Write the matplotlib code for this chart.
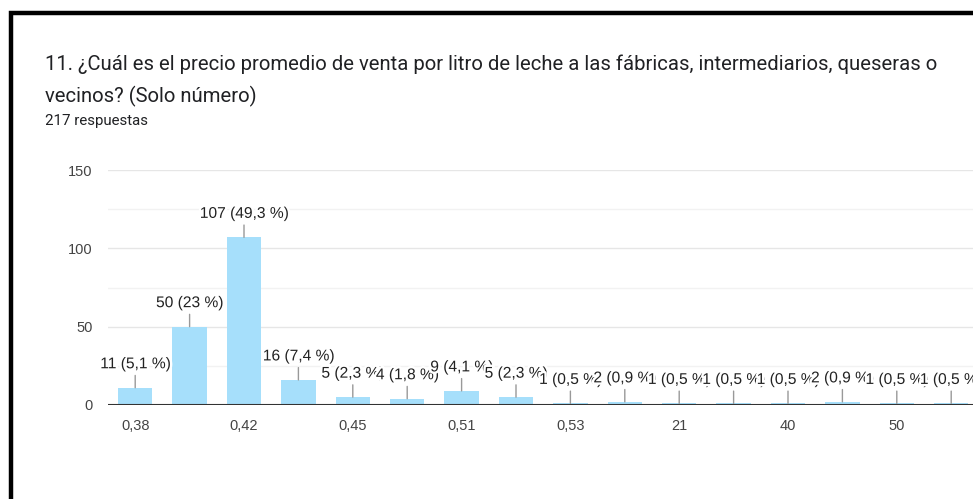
import matplotlib.pyplot as plt
import matplotlib.patheffects as pe
from matplotlib.patches import Rectangle

# respuestas por precio (las etiquetas intermedias no se muestran en el eje)
precios = ["0,38", "0,4", "0,42", "0,43", "0,45", "0,5", "0,51", "0,52",
           "0,53", "1", "21", "30", "40", "45", "50", "60"]
conteos = [11, 50, 107, 16, 5, 4, 9, 5, 1, 2, 1, 1, 1, 2, 1, 1]
porcentajes = ["5,1", "23", "49,3", "7,4", "2,3", "1,8", "4,1", "2,3",
               "0,5", "0,9", "0,5", "0,5", "0,5", "0,9", "0,5", "0,5"]

TITULO_1 = ("11. ¿Cuál es el precio promedio de venta por litro de leche a las fábricas, "
            "intermediarios, queseras o")
TITULO_2 = "vecinos? (Solo número)"
SUBTITULO = "217 respuestas"

W, H = 973, 499
fig = plt.figure(figsize=(W / 100, H / 100), dpi=100)
fig.patch.set_facecolor("white")

# marco negro de la tarjeta (sale por la derecha y por abajo)
fig.add_artist(Rectangle((11 / W, -0.2), 2.0, (H - 13) / H + 0.2,
                         transform=fig.transFigure, fill=False,
                         edgecolor="black", linewidth=3.2))

fig.text(45 / W, 1 - 70 / H, TITULO_1, fontsize=14.6, family="Roboto",
         color="#202124", va="baseline")
fig.text(45 / W, 1 - 102 / H, TITULO_2, fontsize=14.6, family="Roboto",
         color="#202124", va="baseline")
fig.text(45 / W, 1 - 121 / H, SUBTITULO, fontsize=10.8, family="Roboto",
         color="#202124", va="center")

# zona del gráfico
left, bottom, top = 108, 405, 170
slot = 54.4
n_slots = 17
ax = fig.add_axes([left / W, 1 - bottom / H, n_slots * slot / W, (bottom - top) / H])
ax.set_xlim(-0.5, n_slots - 0.5)
ax.set_ylim(0, 150)

for y in (25, 75, 125):
    ax.axhline(y, color="#f2f2f2", linewidth=1, zorder=0)
for y in (50, 100, 150):
    ax.axhline(y, color="#e6e6e6", linewidth=1, zorder=0)

x = list(range(len(conteos)))
ax.bar(x, conteos, width=0.63, color="#a6dffb", zorder=2)
ax.axhline(0, color="#333333", linewidth=1.5, zorder=3)

# etiquetas con halo blanco: la siguiente tapa a la anterior si se pisan
for xi, c, p in zip(x, conteos, porcentajes):
    ax.annotate(f"{c} ({p} %)", xy=(xi, c), xytext=(0, 24),
                textcoords="offset pixels", ha="center", va="center",
                fontsize=11.2, family="Liberation Sans", color="#222222",
                path_effects=[pe.withStroke(linewidth=3.5, foreground="white")],
                arrowprops=dict(arrowstyle="-", color="#999999", lw=1,
                                shrinkA=1, shrinkB=0), zorder=4 + xi * 0.01)

for s in ax.spines.values():
    s.set_visible(False)
ax.set_xticks(x[::2])
ax.set_xticklabels(precios[::2])
ax.set_yticks([0, 50, 100, 150])
ax.tick_params(length=0, labelsize=10.5, labelcolor="#444444")
ax.tick_params(axis="x", pad=10)
ax.tick_params(axis="y", pad=11)
for lab in ax.get_xticklabels() + ax.get_yticklabels():
    lab.set_family("Liberation Sans")

fig.savefig("out.png", dpi=100)
